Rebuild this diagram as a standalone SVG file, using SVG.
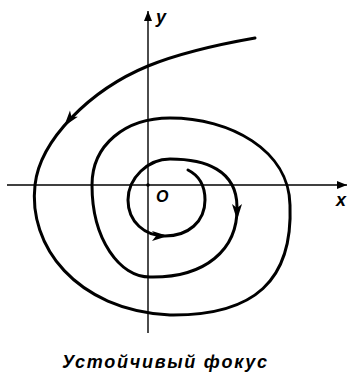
<svg xmlns="http://www.w3.org/2000/svg" width="351" height="378" viewBox="0 0 351 378">
<style>
.axis{stroke:#000;stroke-width:1.4;fill:none}
.traj{stroke:#000;stroke-width:3;fill:none;stroke-linecap:round;stroke-linejoin:round}
.arr{fill:#000}
.lbl{font-family:"Liberation Sans",Arial,sans-serif;font-style:italic;font-weight:bold;fill:#000}
</style>
<defs>
<marker id="ah" viewBox="0 0 10 8" refX="10" refY="4" markerWidth="10" markerHeight="8" markerUnits="userSpaceOnUse" orient="auto">
<path d="M0,0 L10,4 L0,8 Z" fill="#000"/>
</marker>
<path id="head" d="M8,0 L-8,-5 L-4,0 L-8,5 Z"/>
</defs>
<rect width="351" height="378" fill="#fff"/>
<g id="axes">
<line class="axis" x1="7" y1="185" x2="347" y2="185" marker-end="url(#ah)"/>
<line class="axis" x1="148" y1="333" x2="148" y2="11" marker-end="url(#ah)"/>
<circle cx="148" cy="185" r="1.8" fill="#000"/>
</g>
<g id="connectors">
<path class="traj" d="M255,38 C215,45 175,55 148,66 C90,90 40,140 35,185 C28,245 75,310 170,315 C255,316 293,280 290,205 C289,150 230,118 170,118 C125,118 92,145 92,185 C92,240 120,277 150,277 C205,278 238,250 237,207 C237,170 205,159 170,159 C148,159 128,178 128,200 C128,222 145,236 165,236 C188,236 205,222 205,200 C205,185 198,175 188,170"/>
<use href="#head" class="arr" transform="translate(69,120) rotate(128)"/>
<use href="#head" class="arr" transform="translate(237,212) rotate(90)"/>
<use href="#head" class="arr" transform="translate(160,236) rotate(0)"/>
</g>
<g id="labels">
<text class="lbl" x="156" y="23" font-size="18">y</text>
<text class="lbl" x="336" y="206" font-size="18">x</text>
<text class="lbl" x="156" y="202" font-size="16">O</text>
<text class="lbl" x="62" y="368" font-size="18" textLength="205" lengthAdjust="spacing">Устойчивый  фокус</text>
</g>
</svg>
